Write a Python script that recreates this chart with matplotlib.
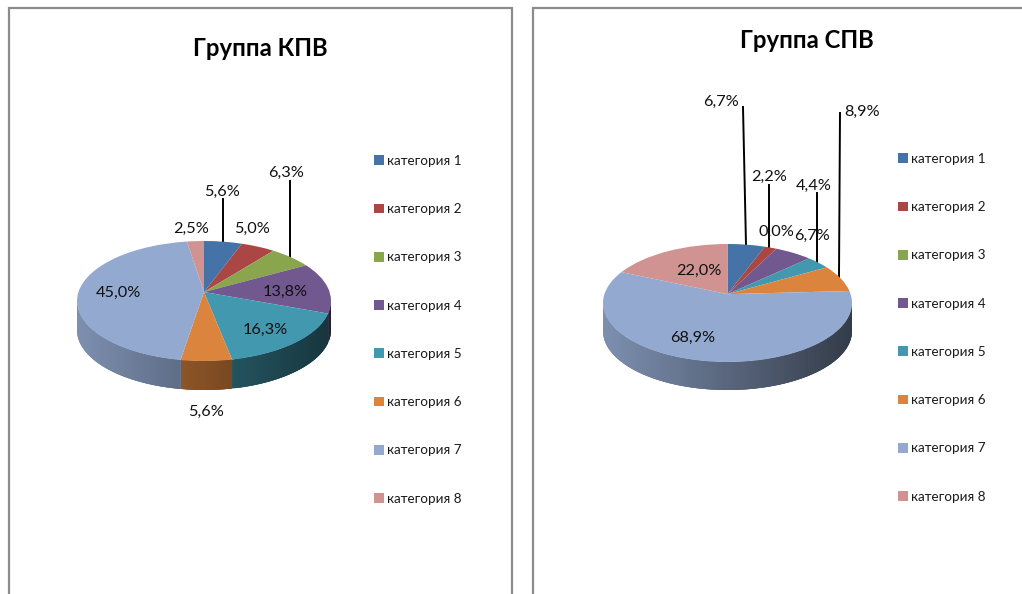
import numpy as np
import matplotlib
matplotlib.use("Agg")
import matplotlib.pyplot as plt
from matplotlib.transforms import Transform
from matplotlib.colors import to_rgb

plt.rcParams['font.family'] = ['Lato', 'Open Sans', 'DejaVu Sans']

categories = ['категория 1', 'категория 2', 'категория 3', 'категория 4',
              'категория 5', 'категория 6', 'категория 7', 'категория 8']
colors = ['#4572A7', '#AA4643', '#89A54E', '#71588F',
          '#4198AF', '#DB843D', '#93A9CF', '#D19392']
kpv_values = [5.6, 5.0, 6.3, 13.8, 16.3, 5.6, 45.0, 2.5]
spv_values = [6.7, 2.2, 0.0, 6.7, 4.4, 8.9, 68.9, 22.0]

W, H = 1022, 594
fig = plt.figure(figsize=(W / 100, H / 100), dpi=100, facecolor='white')


class Tilt(Transform):
    """Perspective of the tilted disc: the rim stays a circle, the apex moves up."""
    input_dims = output_dims = 2
    has_inverse = False

    def __init__(self, a):
        super().__init__()
        self.a = a

    def transform_non_affine(self, xy):
        xy = np.asarray(xy, float)
        d = 1 + self.a * xy[:, 1]
        return np.column_stack([xy[:, 0] * np.sqrt(1 - self.a ** 2) / d,
                                (xy[:, 1] + self.a) / d])


def px_axes(x0, y0, x1, y1):
    return fig.add_axes([x0 / W, 1 - y1 / H, (x1 - x0) / W, (y1 - y0) / H])


overlay = px_axes(0, 0, W, H)
overlay.set_xlim(0, W)
overlay.set_ylim(H, 0)
overlay.axis('off')
overlay.set_zorder(0)


def pie3d(values, cx, cy, rx, ry, depth, a=0.15):
    d = depth / ry
    ax = px_axes(cx - rx, cy - ry, cx + rx, cy + ry + depth)
    wedges, _ = ax.pie(values, colors=colors, startangle=90, counterclock=False,
                       radius=1.0, wedgeprops=dict(linewidth=0))
    ax.set_aspect('auto')
    ax.set_xlim(-1, 1)
    ax.set_ylim(-1 - d, 1)
    ax.set_zorder(1)
    ax.patch.set_alpha(0)
    tilt = Tilt(a)
    for w in wedges:
        w.set_transform(tilt + ax.transData)
        w.set_zorder(3)
        w.set_clip_on(False)
        # shaded side wall of this slice, as overlapping strips
        lo, hi = sorted((w.theta1, w.theta2))
        if hi - lo < 1e-6:
            continue
        th = np.radians(np.linspace(lo, hi, int((hi - lo) / 1.0) + 2))
        rim = tilt.transform_non_affine(np.column_stack([np.cos(th), np.sin(th)]))
        base = np.array(to_rgb(w.get_facecolor()[:3]))
        n = len(rim)
        for i in range(n - 1):
            p, q = rim[i], rim[min(i + 3, n - 1)]
            if rim[i][1] > 0.01 and rim[i + 1][1] > 0.01:
                continue
            if q[1] > 0.01:
                q = rim[i + 1]
            f = 0.60 - 0.25 * p[0]
            ax.fill([p[0], q[0], q[0], p[0]], [p[1], q[1], q[1] - d, p[1] - d],
                    facecolor=tuple(base * f), linewidth=0, zorder=2)
    return wedges


def frame(x0, x1, right=True):
    xs = [x0, x0, x1] + ([x1] if right else [])
    ys = [H, 8, 8] + ([H] if right else [])
    overlay.plot(xs, ys, color='#8C8C8C', lw=1.6, solid_joinstyle='miter',
                 clip_on=False)


def fmt(v):
    return f'{v:.1f}%'.replace('.', ',')


def legend(wedges, x, y):
    fig.legend(wedges, categories, loc='upper left',
               bbox_to_anchor=(x / W, 1 - y / H), bbox_transform=fig.transFigure,
               frameon=False, fontsize=9.7, labelspacing=2.69, borderpad=0,
               borderaxespad=0, handlelength=0.72, handleheight=0.72,
               handletextpad=0.22, labelcolor='#1a1a1a')


# --- Left chart ---
frame(9, 512)
overlay.text(260, 48, 'Группа КПВ', ha='center', va='center', fontsize=17.2,
             fontweight='bold', color='black')
w1 = pie3d(kpv_values, 204, 301, 127, 60, 29)
legend(w1, 374, 155)
kpv_pos = [(222, 192), (252, 229), (286, 173), (285, 292),
           (265, 330), (206, 412), (118, 293), (191, 229)]
for v, (x, y) in zip(kpv_values, kpv_pos):
    overlay.figure.text(x / W, 1 - y / H, fmt(v), ha='center', va='center',
                        fontsize=11.7, color='#111111', zorder=10)
for xs, ys in [((223, 223), (199, 243)), ((290, 290), (181, 257))]:
    overlay.plot(xs, ys, color='black', lw=1.4)

# --- Right chart ---
frame(533, 1030, right=False)
overlay.text(807, 40, 'Группа СПВ', ha='center', va='center', fontsize=17.2,
             fontweight='bold', color='black')
w2 = pie3d(spv_values, 727.5, 303, 124.5, 59, 28)
legend(w2, 898, 153)
spv_pos = [(721, 102), (769, 177), (776, 232), (812, 236),
           (814, 186), (862, 112), (693, 338), (699, 271)]
for v, (x, y) in zip(spv_values, spv_pos):
    overlay.figure.text(x / W, 1 - y / H, fmt(v), ha='center', va='center',
                        fontsize=11.7, color='#111111', zorder=10)
for xs, ys in [((743, 746), (107, 245)), ((769, 769), (185, 247)),
               ((817, 817), (193, 262)), ((840, 839), (113, 277))]:
    overlay.plot(xs, ys, color='black', lw=1.4)

fig.savefig('out.png', dpi=100)
